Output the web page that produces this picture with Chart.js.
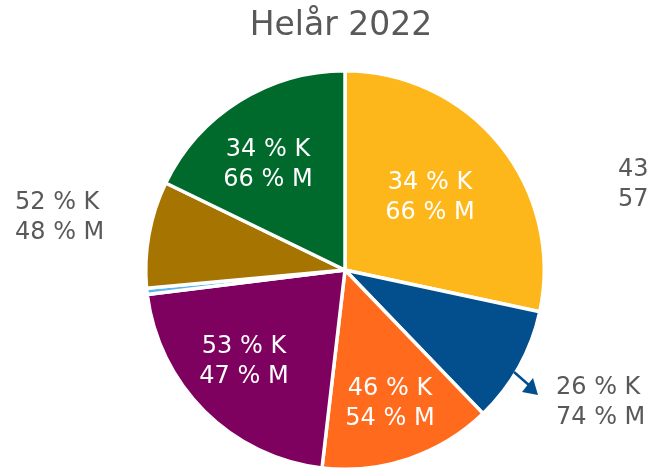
<!DOCTYPE html>
<html>
<head>
<meta charset="utf-8">
<script src="https://cdn.jsdelivr.net/npm/chart.js@4"></script>
<style>
  html, body { margin: 0; padding: 0; background: #fff; }
  #wrap { width: 651px; height: 472px; position: relative; }
</style>
</head>
<body>
<div id="wrap"><canvas id="chart"></canvas></div>
<script>
const title = 'Helår 2022';
const categories = ['A', 'B', 'C', 'D', 'E', 'F', 'G'];
const shares = [28.5, 9.5, 14.1, 21.3, 0.5, 8.7, 17.9];
const womenPct = ['34', '26', '46', '53', '43', '52', '34'];
const menPct = ['66', '74', '54', '47', '57', '48', '66'];
const colors = ['#FDB71B', '#034F8E', '#FF6A1C', '#7E005F', '#5CB6F2', '#A67400', '#006A2C'];

// where each label pair sits (first line centre/left), and its colour
const labelLayout = [
  { x: 430, y: 183, align: 'center', color: '#ffffff' },
  { x: 556, y: 388, align: 'left', color: '#595959' },
  { x: 390, y: 389, align: 'center', color: '#ffffff' },
  { x: 244, y: 347, align: 'center', color: '#ffffff' },
  { x: 618, y: 170, align: 'left', color: '#595959' },
  { x: 15, y: 203, align: 'left', color: '#595959' },
  { x: 268, y: 150, align: 'center', color: '#ffffff' }
];

const labelPlugin = {
  id: 'labels',
  afterDraw(chart) {
    const ctx = chart.ctx;
    ctx.save();
    ctx.fillStyle = '#595959';
    ctx.font = '33px "DejaVu Sans"';
    ctx.textAlign = 'center';
    ctx.textBaseline = 'middle';
    ctx.fillText(title, 341, 26);

    // arrow to the small blue slice label
    ctx.strokeStyle = colors[1];
    ctx.fillStyle = colors[1];
    ctx.lineWidth = 2.5;
    ctx.beginPath();
    ctx.moveTo(514, 372);
    ctx.lineTo(530, 386);
    ctx.stroke();
    ctx.beginPath();
    ctx.moveTo(538, 395);
    ctx.lineTo(522, 392);
    ctx.lineTo(533, 378);
    ctx.closePath();
    ctx.fill();

    ctx.font = '24px "DejaVu Sans"';
    labelLayout.forEach((p, i) => {
      ctx.fillStyle = p.color;
      ctx.textAlign = p.align;
      if (i === 4) {
        ctx.fillText(womenPct[i], p.x, p.y);
        ctx.fillText(menPct[i], p.x, p.y + 30);
      } else {
        ctx.fillText(womenPct[i] + ' % K', p.x, p.y);
        ctx.fillText(menPct[i] + ' % M', p.x, p.y + 30);
      }
    });
    ctx.restore();
  }
};

new Chart(document.getElementById('chart'), {
  type: 'pie',
  data: {
    labels: categories,
    datasets: [{
      data: shares,
      backgroundColor: colors,
      borderColor: '#ffffff',
      borderWidth: 3.5
    }]
  },
  options: {
    responsive: true,
    maintainAspectRatio: false,
    animation: false,
    layout: { padding: { top: 69, bottom: 1, left: 144, right: 105 } },
    plugins: {
      legend: { display: false },
      tooltip: { enabled: false }
    }
  },
  plugins: [labelPlugin]
});
</script>
</body>
</html>
